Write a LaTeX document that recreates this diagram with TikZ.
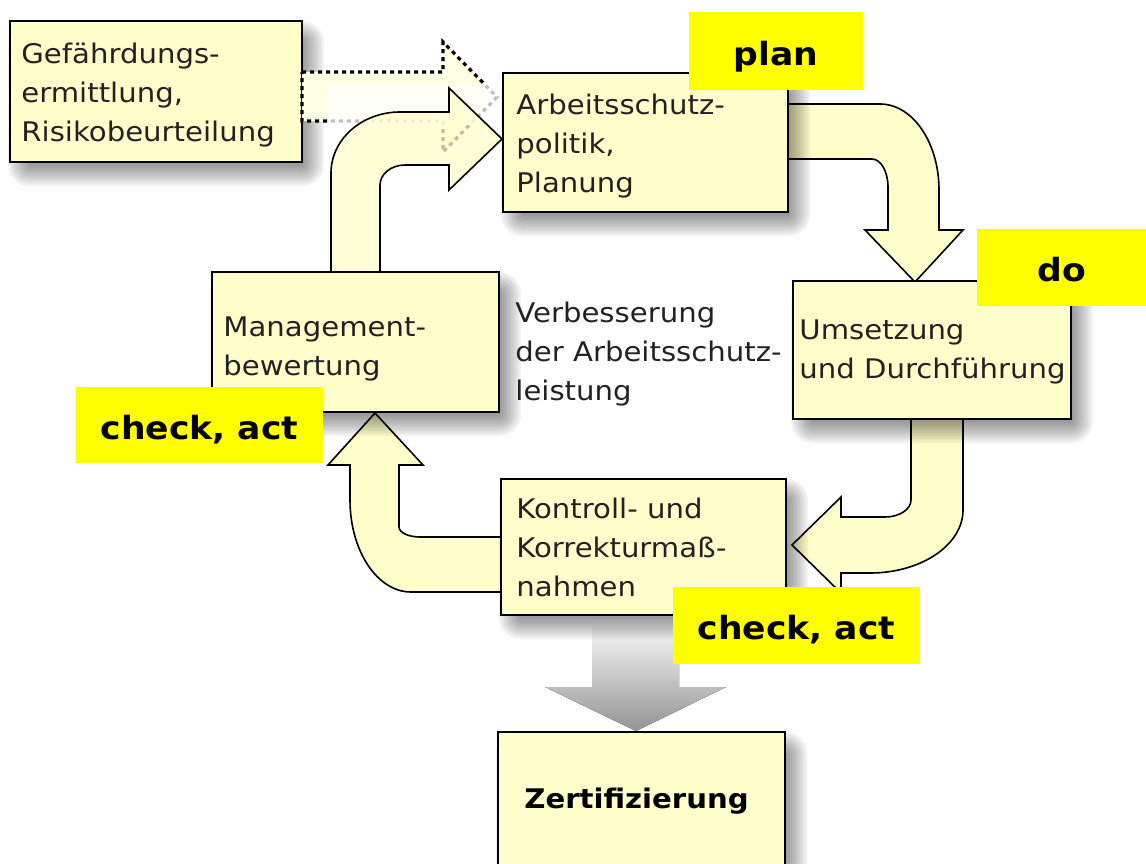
\documentclass[tikz,border=0pt]{standalone}
\usepackage{fontspec}
\setmainfont{DejaVu Sans}[FakeStretch=1.08]
\definecolor{boxfill}{HTML}{FFFFCC}
\definecolor{tagyellow}{HTML}{FFFF00}
\definecolor{inktext}{HTML}{222222}
% invisible rule fixing the height of the first text line in a box
\newcommand\firstrule{\rule{0pt}{11pt}}
% soft drop shadow below and right of the rectangle (#1,#2)-(#3,#4)
\newcommand\softshadow[4]{%
  \foreach \i in {0,...,8} {%
    \pgfmathsetmacro\rc{1.2*\i+1}%
    \fill[black, opacity=0.05, rounded corners=\rc pt]
      (#1+18-2.5*\i, #2+20-2.5*\i) rectangle (#3+2+2.5*\i, #4+4+2.5*\i);
  }}

\begin{document}
\begin{tikzpicture}[x=0.5pt,y=-0.5pt,
  box/.style={draw=black, line width=0.9pt, fill=boxfill, inner sep=0pt},
  flow/.style={draw=black, line width=0.8pt, fill=boxfill, line join=miter},
  boxtext/.style={anchor=north west, inner sep=0pt, align=left, text=inktext,
    font=\fontsize{13.5}{19.5}\selectfont},
  tag/.style={fill=tagyellow, inner sep=0pt, text height=17pt, text depth=3pt,
    font=\bfseries\fontsize{16}{19}\selectfont},
  dotline/.style={line width=1.6pt, dash pattern=on 2pt off 2pt}
]
\clip (0,0) rectangle (1146,863);
\fill[white] (0,0) rectangle (1146,863);

% block arrows of the cycle
% plan -> do
\path[flow] (785,104) -- (880,104) .. controls (912.6,104) and (939,142.5) .. (939,190)
  -- (939,230) -- (963,230) -- (915,282) -- (865,230) -- (888,230) -- (888,187)
  .. controls (888,171.5) and (880.8,159) .. (872,159) -- (785,159) -- cycle;
% do -> check
\path[flow] (911,416) -- (911,500) .. controls (911,509.4) and (899.4,517) .. (885,517)
  -- (841,517) -- (841,497) -- (792,545) -- (841,593) -- (841,573) -- (870,573)
  .. controls (921.4,573) and (963,544.8) .. (963,510) -- (963,416) -- cycle;
% check -> management review
\path[flow] (504,537) -- (420,537) .. controls (408.4,537) and (399,532.5) .. (399,527)
  -- (399,465) -- (423,465) -- (375,413) -- (328,465) -- (350,465) -- (350,500)
  .. controls (350,550.8) and (377.3,592) .. (411,592) -- (504,592) -- cycle;

% shaded arrow towards certification
\fill[top color=white, bottom color=black!42] (592,618) -- (679,618) -- (679,687)
  -- (726,687) -- (636,731) -- (545,687) -- (592,687) -- cycle;

% shadows of the boxes
\softshadow{10}{21}{302}{162}
\softshadow{503}{73}{788}{212}
\softshadow{793}{281}{1071}{419}
\softshadow{501}{479}{786}{615}
\softshadow{212}{272}{499}{412}
\softshadow{498}{732}{785}{900}

% boxes
\node[box, minimum width=146pt, minimum height=70.5pt] (gef) at (156,91.5) {};
\node[box, minimum width=142.5pt, minimum height=69.5pt] (arb) at (645.5,142.5) {};
\node[box, minimum width=139pt, minimum height=69pt] (ums) at (932,350) {};
\node[box, minimum width=142.5pt, minimum height=68pt] (kon) at (643.5,547) {};
\node[box, minimum width=143.5pt, minimum height=70pt] (man) at (355.5,342) {};
\node[box, minimum width=143.5pt, minimum height=84pt] (zer) at (641.5,816) {};

% dotted input arrow from the risk assessment
\path[fill=boxfill!55!white] (302,72) -- (443,72) -- (443,42) -- (497,97) -- (443,152)
  -- (443,121) -- (302,121) -- cycle;
\draw[dotline] (302,72) -- (443,72) -- (443,42) -- (497,97) -- (443,152)
  -- (443,121) -- (302,121) -- cycle;
\fill[white, opacity=0.75] (328,84) rectangle (499,125);

% management review -> plan
\path[flow, fill opacity=0.75] (331,272) -- (331,173) .. controls (331,139.3) and (361.9,112) .. (400,112)
  -- (449,112) -- (449,88) -- (502,139) -- (449,190) -- (449,165) -- (405,165)
  .. controls (391.2,165) and (380,174) .. (380,185) -- (380,272) -- cycle;

% phase tags
\node[tag, minimum width=87pt, minimum height=39pt] (tplan) at (776,51) {plan};
\node[tag, minimum width=84.5pt, minimum height=38.5pt] (tdo) at (1061.5,267.5) {do};
\node[tag, minimum width=123.5pt, minimum height=38pt] (tchkL) at (199.5,425) {check, act};
\node[tag, minimum width=123.5pt, minimum height=38.5pt] (tchkR) at (796.5,625.5) {check, act};

% texts
\node[boxtext] (gefT) at (21,41) {\firstrule Gefährdungs-\\ermittlung,\\Risikobeurteilung};
\node[boxtext] (arbT) at (516,92) {\firstrule Arbeitsschutz-\\politik,\\Planung};
\node[boxtext] (umsT) at (799,317) {\firstrule Umsetzung\\und Durchführung};
\node[boxtext] (manT) at (223,314) {\firstrule Management-\\bewertung};
\node[boxtext] (konT) at (516,496) {\firstrule Kontroll- und\\Korrekturmaß-\\nahmen};
\node[boxtext] (verT) at (515,300) {\firstrule Verbesserung\\der Arbeitsschutz-\\leistung};
\node[anchor=base west, inner sep=0pt, font=\bfseries\fontsize{13.5}{16}\selectfont]
  (zerT) at (524,808) {Zertifizierung};
\end{tikzpicture}
\end{document}
